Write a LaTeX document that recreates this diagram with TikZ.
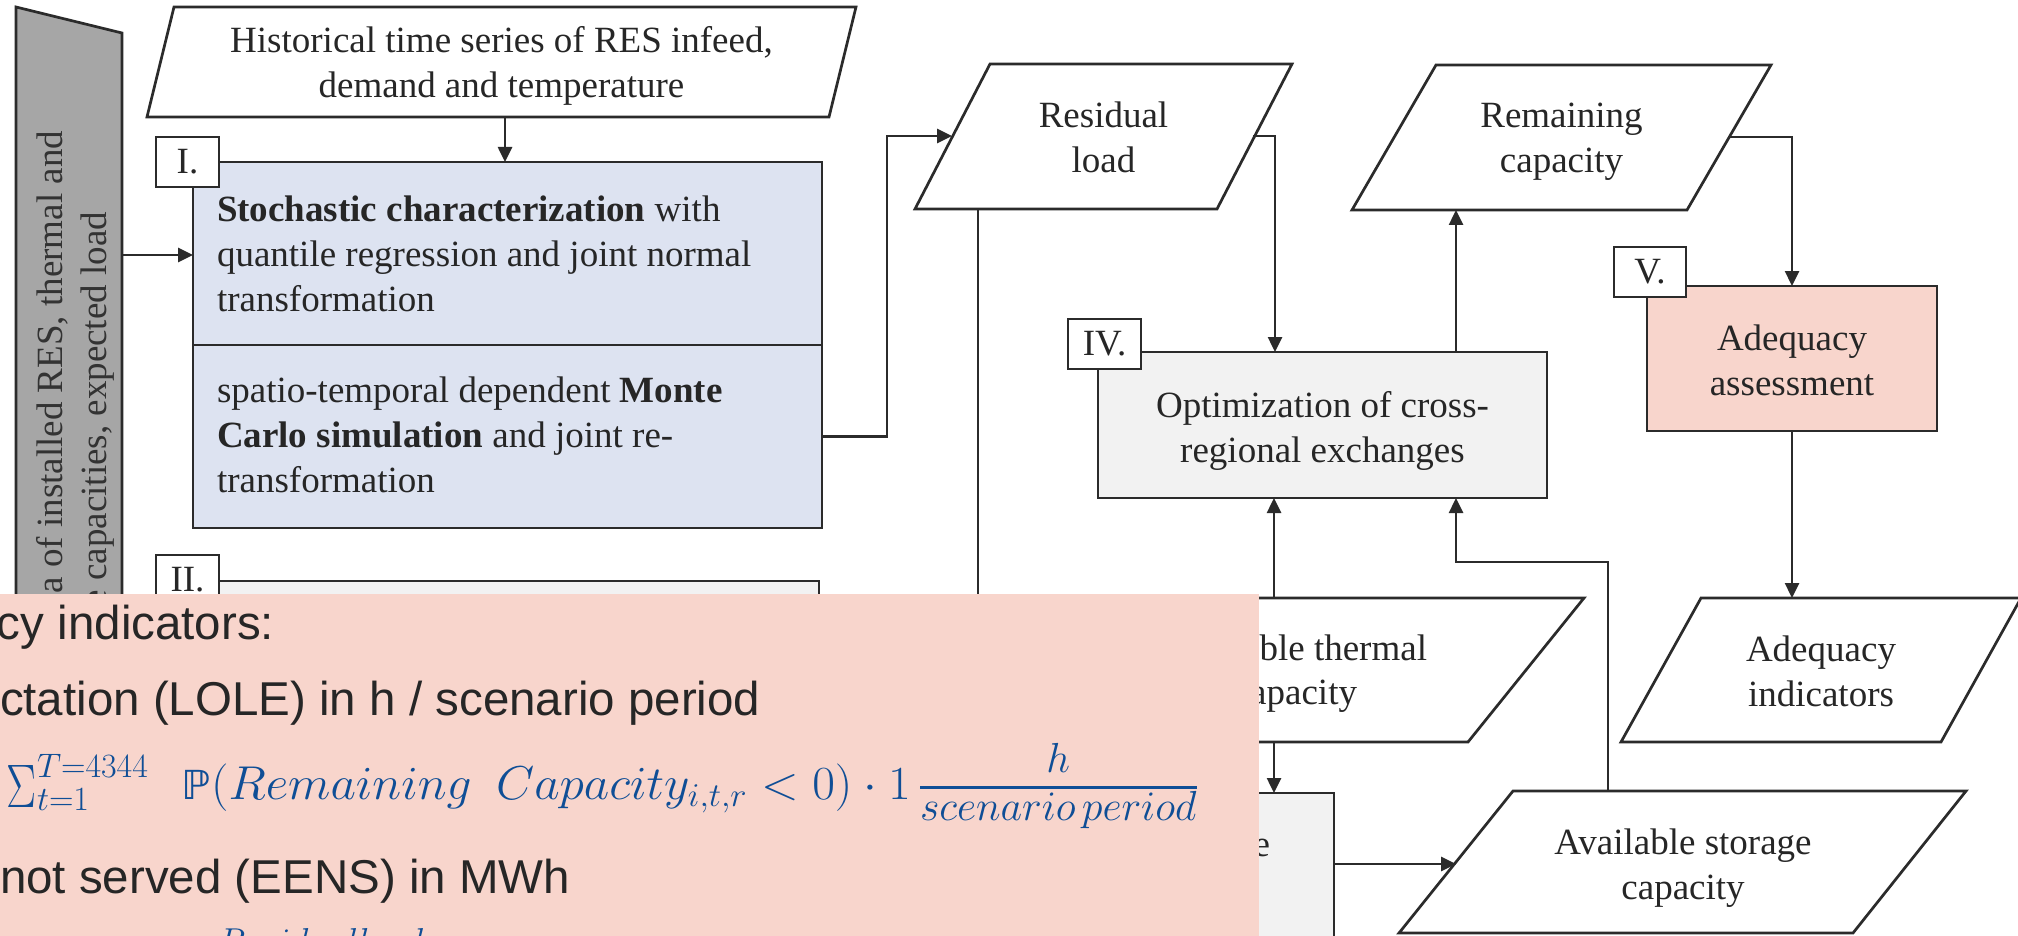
\RequirePackage{fix-cm}
\documentclass[tikz,border=0pt]{standalone}
\usepackage{graphicx}
\usepackage{fontspec}
\setmainfont{Liberation Serif}
\newfontfamily\arialf{Liberation Sans}
\newfontfamily\djv{DejaVu Sans}
\usetikzlibrary{arrows.meta,calc}
\definecolor{ln}{HTML}{2B2B2B}
\definecolor{tx}{HTML}{262626}
\definecolor{barg}{HTML}{A6A6A6}
\definecolor{blu}{HTML}{DDE3F1}
\definecolor{lgr}{HTML}{F2F2F2}
\definecolor{pnk}{HTML}{F8D5CC}
\definecolor{fblue}{HTML}{0F4E96}
\newcommand{\scr}[1]{\mbox{\fontsize{34}{40}\selectfont$#1$}}
\begin{document}
\begin{tikzpicture}[x=1pt,y=-1pt,
  every node/.style={inner sep=0pt,outer sep=0pt,text=tx},
  bord/.style={draw=ln,line width=2.7pt},
  arr/.style={draw=ln,line width=2.6pt,-{Triangle[length=15pt,width=14pt]}},
  conn/.style={draw=ln,line width=2.6pt},
  rbox/.style={draw=ln,line width=2.7pt,anchor=north west},
  lab/.style={draw=ln,fill=white,line width=2.7pt,minimum height=50pt,
    font=\fontsize{37}{45}\selectfont},
  dtext/.style={font=\fontsize{37}{45}\selectfont},
  gtext/.style={font=\fontsize{37}{44}\selectfont,text=black!80},
  atext/.style={font=\arialf\fontsize{47.5}{57}\selectfont,anchor=base west},
  ftext/.style={font=\fontsize{47.5}{57}\selectfont,text=fblue,anchor=base west}]
\useasboundingbox (0,0) rectangle (2018,936);
\fill[white] (0,0) rectangle (2018,936);

% grey input bar
\draw[bord,fill=barg] (16,7) -- (122,33) -- (122,990) -- (16,990) -- cycle;
\node[gtext,rotate=90,anchor=base east] (G1) at (62,131) {a of installed RES, thermal and};
\node[gtext,rotate=90,anchor=base east] (G2) at (106,212) {e capacities, expected load};

% historical data
\draw[bord,fill=white] (174,7) -- (856,7) -- (829,117) -- (147,117) -- cycle;
\node[dtext,anchor=base] (Hist) at (501.5,53) {\begin{tabular}[t]{@{}c@{}}Historical time series of RES infeed,\\demand and temperature\end{tabular}};

% boxes
\node[rbox,fill=blu,minimum width=629pt,minimum height=183pt] (I1) at (193,162) {};
\node[rbox,fill=blu,minimum width=629pt,minimum height=183pt] (I2) at (193,345) {};
\node[rbox,fill=lgr,minimum width=626pt,minimum height=220pt] (II) at (193,581) {};
\node[rbox,fill=lgr,minimum width=449pt,minimum height=146pt] (IV) at (1098,352) {};
\node[rbox,fill=pnk,minimum width=290pt,minimum height=145pt] (V) at (1647,286) {};
\node[rbox,fill=lgr,minimum width=334pt,minimum height=250pt] (III) at (1000,793) {};

\node[dtext,anchor=base west] (I1t) at (217,222) {\begin{tabular}[t]{@{}l@{}}\textbf{Stochastic characterization} with\\quantile regression and joint normal\\transformation\end{tabular}};
\node[dtext,anchor=base west] (I2t) at (217,402) {\begin{tabular}[t]{@{}l@{}}spatio-temporal dependent \textbf{Monte}\\\textbf{Carlo simulation} and joint re-\\transformation\end{tabular}};
\node[dtext,anchor=base] (IVt) at (1322.5,417) {\begin{tabular}[t]{@{}c@{}}Optimization of cross-\\regional exchanges\end{tabular}};
\node[dtext,anchor=base] (Vt) at (1792,350) {\begin{tabular}[t]{@{}c@{}}Adequacy\\assessment\end{tabular}};
\node[dtext,anchor=base east] (IIIt) at (1270,856) {e};

% parallelograms
\draw[bord,fill=white] (990,64) -- (1292,64) -- (1217,209) -- (915,209) -- cycle;
\node[dtext,anchor=base] (RL) at (1103.5,128) {\begin{tabular}[t]{@{}c@{}}Residual\\load\end{tabular}};
\draw[bord,fill=white] (1436,65) -- (1771,65) -- (1687,210) -- (1352,210) -- cycle;
\node[dtext,anchor=base] (RC) at (1561.5,128) {\begin{tabular}[t]{@{}c@{}}Remaining\\capacity\end{tabular}};
\draw[bord,fill=white] (1701,598) -- (2021,598) -- (1941,742) -- (1621,742) -- cycle;
\node[dtext,anchor=base] (AI) at (1821,661) {\begin{tabular}[t]{@{}c@{}}Adequacy\\indicators\end{tabular}};
\draw[bord,fill=white] (1150,598) -- (1584,598) -- (1468,742) -- (1034,742) -- cycle;
\node[dtext,anchor=base east] (AT1) at (1427,660) {ble thermal};
\node[dtext,anchor=base east] (AT2) at (1357,704) {apacity};
\draw[bord,fill=white] (1513,791) -- (1966,791) -- (1853,933) -- (1399,933) -- cycle;
\node[dtext,anchor=base] (AS) at (1683,854) {\begin{tabular}[t]{@{}c@{}}Available storage\\capacity\end{tabular}};

% connector end points
\coordinate (hA) at (505,117);
\coordinate (gA) at (122,255);
\coordinate (e1) at (887,136);
\coordinate (rlL) at (952,136);
\coordinate (rlR) at (1253,136);
\coordinate (ivIn) at (1275,352);
\coordinate (rcB) at (1456,210);
\coordinate (rcR) at (1730,137);
\coordinate (aiT) at (1792,598);
\coordinate (atT) at (1274,598);
\coordinate (atB) at (1274,742);
\coordinate (asT) at (1608,791);
\coordinate (e2) at (1456,562);
\coordinate (asL) at (1456,864);
\coordinate (rlB) at (978,209);
\coordinate (rlD) at (978,720);

\draw[arr] (hA) -- (hA |- I1.north);
\draw[arr] (gA) -- (gA -| I1.west);
\draw[arr] (I2.east) -| (e1) -- (rlL);
\draw[arr] (rlR) -| (ivIn);
\draw[arr] (rcB |- IV.north) -- (rcB);
\draw[arr] (rcR) -| (V.north);
\draw[arr] (V.south) -- (aiT);
\draw[arr] (atT) -- (atT |- IV.south);
\draw[arr] (asT) |- (e2) -- (e2 |- IV.south);
\draw[arr] (atB) -- (atB |- III.north);
\draw[arr] (asL -| III.east) -- (asL);
\draw[conn] (rlB) -- (rlD);

% labels
\node[lab,minimum width=63pt] (LI) at (187.5,162) {I.};
\node[lab,minimum width=63pt] (LII) at (187.5,580) {II.};
\node[lab,minimum width=73pt] (LIV) at (1104.5,344) {IV.};
\node[lab,minimum width=72pt] (LV) at (1650,272) {V.};

% overlay panel
\node[fill=pnk,anchor=north west,minimum width=1265pt,minimum height=350pt] (OV) at (-6,594) {};
\node[atext] (O1) at (-3,639) {cy indicators:};
\node[atext] (O2) at (0,715) {ctation (LOLE) in h / scenario period};
\node[ftext] (F1) at (7,799) {\makebox[175pt][l]{$\raisebox{-8pt}{\resizebox{30pt}{42pt}{$\Sigma$}}_{\scr{t\mathord{=}1}}^{\scr{T\mathord{=}4344}}$}\scalebox{1.04}[1]{$\mbox{\djv\fontsize{40}{48}\selectfont ℙ}(Remaining\hspace{0.5em}Capacity_{i,t,r}<0)\cdot 1$}\hspace{8pt}${\raisebox{8pt}{\fontsize{42}{50}\selectfont$h$}\above 3pt\mbox{\fontsize{42}{50}\selectfont$scenario\hspace{0.15em}period$}}$};
\node[atext] (O3) at (0,893) {not served (EENS) in MWh};
\node[ftext,font=\fontsize{36}{43}\selectfont] (F2) at (218,953) {$Residualload$};
\end{tikzpicture}
\end{document}
